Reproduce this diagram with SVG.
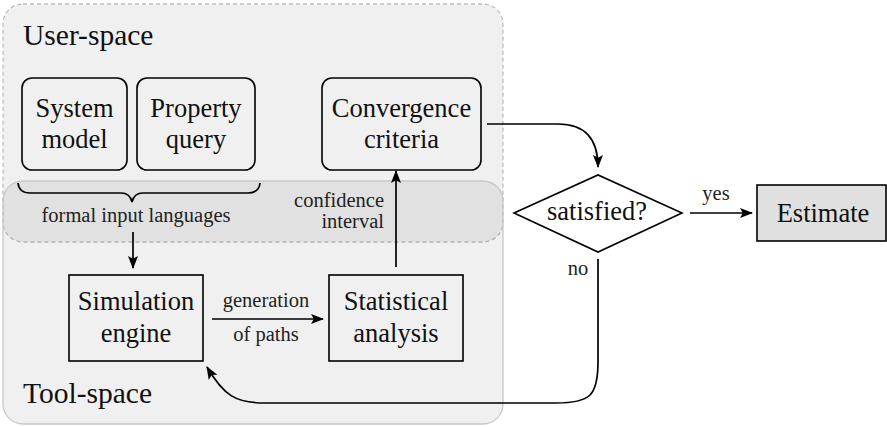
<svg xmlns="http://www.w3.org/2000/svg" width="887" height="427" viewBox="0 0 887 427">
  <style>
    .big { font-family: "Liberation Serif", "DejaVu Serif", serif; font-size: 26.5px; fill: #111; }
    .area { font-family: "Liberation Serif", "DejaVu Serif", serif; font-size: 29.5px; fill: #111; }
    .small { font-family: "Liberation Serif", "DejaVu Serif", serif; font-size: 20.5px; fill: #222; }
    .mid { text-anchor: middle; }
    .end { text-anchor: end; }
    .node { fill: none; stroke: #000; stroke-width: 1.6; }
    .edge { fill: none; stroke: #000; stroke-width: 1.7; }
  </style>
  <defs>
    <marker id="head" viewBox="0 0 13 11" refX="12" refY="5.5" markerWidth="13" markerHeight="11" markerUnits="userSpaceOnUse" orient="auto">
      <path d="M0,0.5 L13,5.5 L0,10.5 L2.8,5.5 Z" fill="#000"/>
    </marker>
  </defs>
  <rect width="887" height="427" fill="#fff"/>

  <!-- regions -->
  <g id="user-space">
    <rect x="3" y="4" width="500" height="238" rx="20" fill="#000" fill-opacity="0.06" stroke="#bdbdbd" stroke-width="1.3" stroke-dasharray="4 3"/>
    <text class="area" x="23" y="45">User-space</text>
  </g>
  <g id="tool-space">
    <rect x="3" y="181" width="500" height="243" rx="20" fill="#000" fill-opacity="0.06" stroke="#c8c8c8" stroke-width="1.3"/>
    <text class="area" x="23" y="403">Tool-space</text>
  </g>

  <!-- nodes -->
  <g id="system-model">
    <rect class="node" x="22" y="78" width="105" height="92" rx="10"/>
    <text class="big mid" x="74.5" y="117">System</text>
    <text class="big mid" x="74.5" y="148">model</text>
  </g>
  <g id="property-query">
    <rect class="node" x="137" y="78" width="118" height="92" rx="10"/>
    <text class="big mid" x="196" y="117">Property</text>
    <text class="big mid" x="196" y="148">query</text>
  </g>
  <g id="convergence-criteria">
    <rect class="node" x="322" y="78" width="159" height="92" rx="10"/>
    <text class="big mid" x="401.5" y="117">Convergence</text>
    <text class="big mid" x="401.5" y="148">criteria</text>
  </g>
  <g id="simulation-engine">
    <rect class="node" x="69" y="275" width="134" height="86"/>
    <text class="big mid" x="136" y="310">Simulation</text>
    <text class="big mid" x="136" y="342">engine</text>
  </g>
  <g id="statistical-analysis">
    <rect class="node" x="329" y="275" width="134" height="86"/>
    <text class="big mid" x="396" y="310">Statistical</text>
    <text class="big mid" x="396" y="342">analysis</text>
  </g>
  <g id="satisfied">
    <polygon class="node" points="514,213 598,175 682,213 598,252"/>
    <text class="big mid" x="597" y="220">satisfied?</text>
  </g>
  <g id="estimate">
    <rect x="757" y="185" width="129" height="56" fill="#e0e0e0" stroke="#000" stroke-width="1.6"/>
    <text class="big mid" x="823" y="222">Estimate</text>
  </g>

  <!-- brace over the input boxes -->
  <g id="input-brace">
    <path class="edge" stroke-width="1.4" d="M18,183 Q19,193 30,193 L121,193 Q130,193 132,202 Q134,193 143,193 L248,193 Q259,193 260,183"/>
    <text class="small mid" x="136" y="222">formal input languages</text>
  </g>

  <!-- connectors -->
  <g id="connectors">
    <line class="edge" x1="133" y1="232" x2="133" y2="268" marker-end="url(#head)"/>
    <line class="edge" x1="212" y1="319" x2="323" y2="319" marker-end="url(#head)"/>
    <text class="small mid" x="266" y="307">generation</text>
    <text class="small mid" x="266" y="341">of paths</text>
    <line class="edge" x1="396" y1="267" x2="396" y2="171" marker-end="url(#head)"/>
    <text class="small end" x="384" y="207">confidence</text>
    <text class="small end" x="384" y="228">interval</text>
    <path class="edge" d="M487,124 L558,124 C586,124 598,140 598,167" marker-end="url(#head)"/>
    <line class="edge" x1="690" y1="213" x2="752" y2="213" marker-end="url(#head)"/>
    <text class="small mid" x="716" y="200">yes</text>
    <path class="edge" d="M598,259 L598,362 C598,396 590,403 556,403 L265,403 C236,403 224,396 207,367" marker-end="url(#head)"/>
    <text class="small mid" x="578" y="275">no</text>
  </g>
</svg>
